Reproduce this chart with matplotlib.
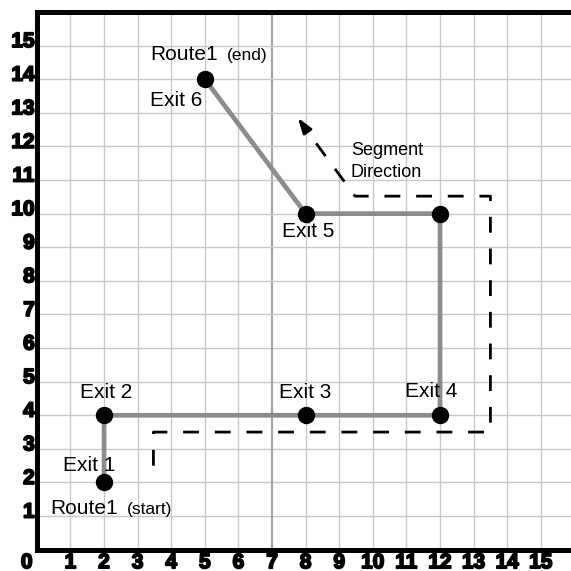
import matplotlib
matplotlib.use('Agg')
import matplotlib.pyplot as plt
import matplotlib.patheffects as pe
from matplotlib.transforms import ScaledTranslation

plt.rcParams['font.family'] = ['Liberation Sans', 'DejaVu Sans']

# route exits
route_x = [2, 2, 8, 12, 12, 8, 5]
route_y = [2, 4, 4, 4, 10, 10, 14]

# dashed "segment direction" path
dir_x = [3.47, 3.47, 13.5, 13.5, 9.47, 8.0]
dir_y = [2.5, 3.5, 3.5, 10.52, 10.52, 12.52]
arrow_tip = (7.77, 12.85)

# labels: (text, x, y, ha)
exit_labels = [
    ('Exit 1', 0.79, 2.33, 'left'),
    ('Exit 2', 2.06, 4.5, 'center'),
    ('Exit 3', 8.0, 4.5, 'center'),
    ('Exit 4', 10.96, 4.55, 'left'),
    ('Exit 5', 7.29, 9.30, 'left'),
    ('Exit 6', 3.38, 13.2, 'left'),
]

fig = plt.figure(figsize=(5.71, 5.71), dpi=100)
ax = fig.add_axes([0.0645, 0.0373, 0.9415, 0.9417])
ax.set_xlim(0, 16)
ax.set_ylim(0, 16)

# grid
for v in range(1, 16):
    if v == 7:
        ax.axvline(v, color='#a4a4a4', lw=1.6, zorder=1)
    else:
        ax.axvline(v, color='#c8c8c8', lw=1.0, zorder=1)
    ax.axhline(v, color='#c8c8c8', lw=1.0, zorder=1)

# route line and exits
ax.plot(route_x, route_y, color='#8c8c8c', lw=3.4, zorder=3, solid_capstyle='butt')
ax.plot(route_x, route_y, 'o', color='black', ms=11.5, zorder=4)

# dashed direction
ax.plot(dir_x, dir_y, color='black', lw=2, linestyle=(0, (5.7, 5.7)), zorder=2)
ax.annotate('', xy=arrow_tip, xytext=(dir_x[-1], dir_y[-1]),
            arrowprops=dict(arrowstyle='-|>,head_length=0.9,head_width=0.3',
                            color='black', lw=2, shrinkA=0, shrinkB=0))

# text labels
for txt, x, y, ha in exit_labels:
    ax.text(x, y, txt, fontsize=15, ha=ha, va='baseline', zorder=5)
ax.text(3.38, 14.57, 'Route1', fontsize=15, va='baseline')
ax.text(5.65, 14.57, '(end)', fontsize=12.5, va='baseline')
ax.text(0.39, 1.06, 'Route1', fontsize=15, va='baseline')
ax.text(2.67, 1.06, '(start)', fontsize=12.5, va='baseline')
ax.text(9.35, 11.75, 'Segment', fontsize=13, va='baseline')
ax.text(9.35, 11.09, 'Direction', fontsize=13, va='baseline')

# spines
for s in ['left', 'bottom', 'top']:
    ax.spines[s].set_linewidth(3.6)
ax.spines['right'].set_visible(False)

# ticks
heavy = [pe.withStroke(linewidth=1.3, foreground='black')]
ax.set_xticks(range(1, 16))
ax.set_yticks(range(1, 16))
ax.tick_params(length=0, labelsize=15)
ax.tick_params(axis='x', pad=2.5)
ax.tick_params(axis='y', pad=1.5)
for lab in ax.get_xticklabels() + ax.get_yticklabels():
    lab.set_fontweight('bold')
    lab.set_path_effects(heavy)
shift = ScaledTranslation(0, 6 / 100, fig.dpi_scale_trans)
for t in ax.yaxis.get_major_ticks():
    t.label1.set_transform(t.label1.get_transform() + shift)
ax.annotate('0', xy=(-0.3, 0), xycoords=('data', 'axes fraction'),
            xytext=(0, -2.5), textcoords='offset points', ha='center', va='top',
            fontsize=15, fontweight='bold', path_effects=heavy,
            annotation_clip=False)

fig.savefig('out.png', dpi=100)
